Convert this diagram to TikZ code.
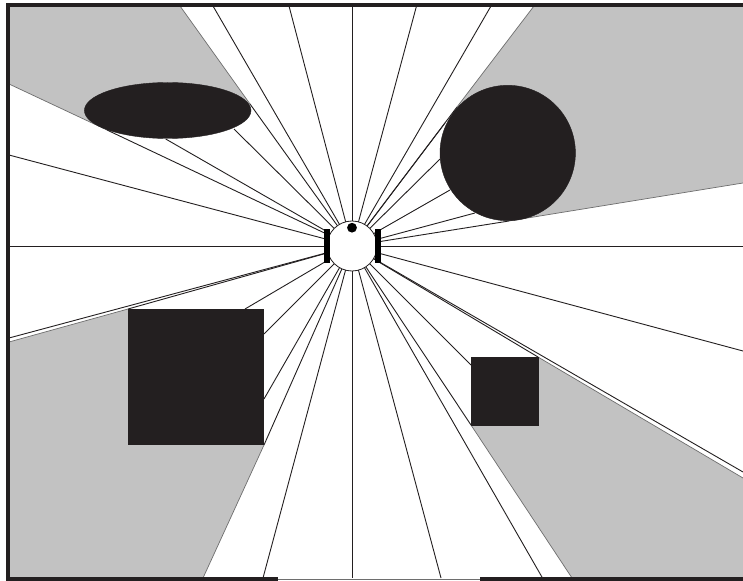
\documentclass[tikz,border=0pt]{standalone}
\definecolor{ink}{HTML}{231F20}
\definecolor{shade}{HTML}{C2C2C2}
\definecolor{edge}{HTML}{6E6E6E}
\tikzset{
  ray/.style={draw=ink,line width=0.9bp},
  shadow/.style={fill=shade},
  shadowedge/.style={draw=edge,line width=0.7bp},
  solid block/.style={fill=ink,draw=ink,line width=0.4bp},
  wall/.style={fill=ink}
}
\begin{document}
\begin{tikzpicture}[x=1bp,y=-1bp]
\useasboundingbox (0,0) rectangle (743,581);
\fill[white] (0,0) rectangle (743,581);
\coordinate (c) at (352,246);
% shadow regions
\fill[shadow] (9,6) -- (180,6) -- (250,104) -- (168,110) -- (107,130) -- (9,84) -- cycle;
\fill[shadow] (534,6) -- (743,6) -- (743,183) -- (509,221) -- (507,153) -- (457,107) -- cycle;
\fill[shadow] (9,342) -- (128,309) -- (264,445) -- (203,578) -- (9,578) -- cycle;
\fill[shadow] (538,357) -- (743,478) -- (743,578) -- (572,578) -- (471,425) -- cycle;
% shadow edges
\draw[shadowedge] (180,6) -- (250,104);
\draw[shadowedge] (9,84) -- (107,130);
\draw[shadowedge] (534,6) -- (457,107);
\draw[shadowedge] (743,183) -- (509,221);
\draw[shadowedge] (9,342) -- (128,309);
\draw[shadowedge] (264,445) -- (203,578);
\draw[shadowedge] (538,357) -- (743,478);
\draw[shadowedge] (471,425) -- (572,578);
% free rays
\foreach \p in {(352,6),(416.5,6),(491,6),(289,6),(213,6),(743,246),(743,351),(743,472),(542.5,578),(441,578),(352,578),(263,578),(9,338),(9,246),(9,155)}
  \draw[ray] (c) -- \p;
% rays stopped by obstacles
\foreach \p in {(250,104),(234,129),(165.7,139),(107,130),
                (457,107),(445,123),(440,159),(450,190),(475,213),(509,221),
                (128,309),(245,309),(264,334),(264,399),(264,445),
                (471,365),(471,425),(538,357)}
  \draw[ray] (c) -- \p;
% obstacles
\fill[solid block] (167.7,110.5) ellipse [x radius=83.3,y radius=28];
\fill[solid block] (507.7,153) circle [radius=67.7];
\fill[solid block] (128.5,309) rectangle (263.5,444.5);
\fill[solid block] (471,357) rectangle (537.7,425);
% robot
\node[circle,draw=ink,fill=white,line width=0.8bp,minimum size=50bp,inner sep=0pt] (robot) at (c) {};
\fill[black] (324.2,229) rectangle (329.7,263);
\fill[black] (375,229) rectangle (380.7,263);
\fill[black] (352,227.7) circle [radius=4.9];
% walls
\fill[wall] (5.7,3) rectangle (743,6.9);
\fill[wall] (5.7,3) rectangle (9.5,581);
\fill[wall] (5.7,577.3) rectangle (278,581);
\fill[wall] (480,577.3) rectangle (743,581);
\draw[edge,line width=0.7bp] (278,579.5) -- (480,579.5);
\end{tikzpicture}
\end{document}
